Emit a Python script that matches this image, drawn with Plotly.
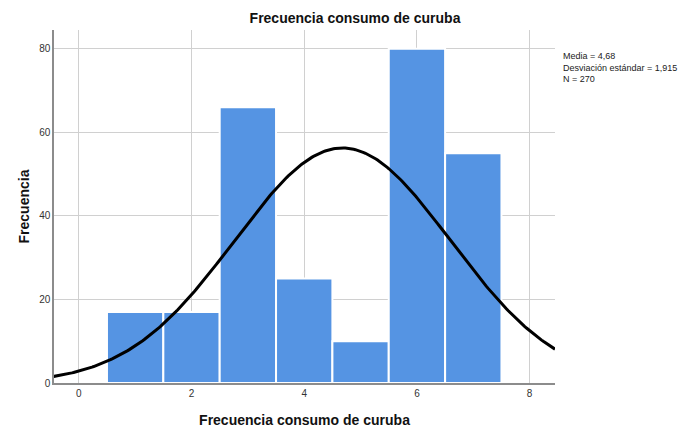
import numpy as np
import plotly.graph_objects as go

# ── Data ───────────────────────────────────────────────────
categories = [1, 2, 3, 4, 5, 6, 7]
frequencies = [17, 17, 66, 25, 10, 80, 55]
MEAN = 4.68
STD = 1.915
N = 270
x_ticks = [0, 2, 4, 6, 8]
y_ticks = [0, 20, 40, 60, 80]
stats_lines = ["Media = 4,68", "Desviación estándar = 1,915", "N = 270"]

BAR_COLOR = "#5594E3"
GRID = "#D0D0D0"
AXIS = "#8C8C8C"
FONT = "Liberation Sans, Arial, sans-serif"

# plot area in pixels (from the reference)
L, R, T, B = 54, 555, 30, 383
W, H = 683, 428

# normal curve scaled to counts (bin width 1)
xs = np.linspace(-0.45, 8.45, 300)
ys = N * np.exp(-0.5 * ((xs - MEAN) / STD) ** 2) / (STD * np.sqrt(2 * np.pi))

fig = go.Figure()
fig.add_trace(go.Bar(
    x=categories, y=frequencies, width=1,
    marker=dict(color=BAR_COLOR, line=dict(color="white", width=2)),
    hoverinfo="x+y",
))
fig.add_trace(go.Scatter(
    x=xs, y=ys, mode="lines",
    line=dict(color="black", width=3),
    hoverinfo="skip",
))

fig.update_layout(
    width=W, height=H,
    margin=dict(l=L, r=W - R, t=T, b=H - B),
    paper_bgcolor="white", plot_bgcolor="white",
    showlegend=False,
    font=dict(family=FONT, color="#333333", size=10),
    title=dict(
        text="<b>Frecuencia consumo de curuba</b>",
        x=355 / W, xanchor="center", y=1 - 18 / H, yanchor="middle",
        font=dict(size=14, color="#111111"), automargin=False,
    ),
    xaxis=dict(
        range=[-0.44, 8.45], tickvals=x_ticks,
        showgrid=True, gridcolor=GRID, gridwidth=1,
        showline=True, linecolor=AXIS, linewidth=1.5,
        zeroline=False, ticks="", automargin=False,
        tickfont=dict(size=10, color="#333333"),
        title=dict(text="<b>Frecuencia consumo de curuba</b>",
                   font=dict(size=14, color="#111111"), standoff=18),
    ),
    yaxis=dict(
        range=[0, 84.5], tickvals=y_ticks,
        showgrid=True, gridcolor=GRID, gridwidth=1,
        showline=True, linecolor=AXIS, linewidth=1.5,
        zeroline=False, ticks="", automargin=False,
        tickfont=dict(size=10, color="#333333"),
        title=dict(text="<b>Frecuencia</b>",
                   font=dict(size=14, color="#111111"), standoff=6),
    ),
)

fig.add_annotation(
    xref="paper", yref="paper",
    x=(561 - L) / (R - L), y=1 - (49 - T) / (B - T),
    text="<br>".join(stats_lines),
    showarrow=False, xanchor="left", yanchor="top", align="left",
    font=dict(size=9, color="#222222"),
)

# page has a default 8px body margin; drop it so the figure fills the window
fig.write_html(
    "out.html",
    config={"displayModeBar": False},
    post_script="document.body.style.margin='0';document.body.style.overflow='hidden';",
)
